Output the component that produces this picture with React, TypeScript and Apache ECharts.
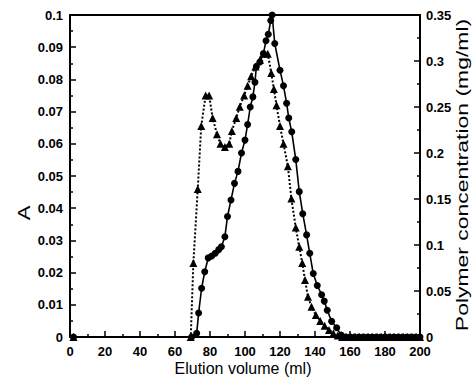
import React, { useEffect, useRef } from "react";
import * as echarts from "echarts";

const xTickLabels = ["0", "20", "40", "60", "80", "100", "120", "140", "160", "180", "200"];

// Absorbance (A), triangles, dotted line
const triVolume = [2, 69, 70.5, 73, 75, 77.5, 79.5, 81.5, 84, 86, 88.5, 91, 92.5, 95, 97, 99.5, 101.5, 103.5, 106, 108.5, 110.5, 113, 115, 116.5, 118, 120, 122, 124.5, 126.5, 129, 131, 132.7, 134.3, 136, 138, 140.5, 143, 145.5, 148, 150.5, 153, 155.5, 158, 160.5, 163, 165.5, 168, 170.5, 173, 175.5, 178, 180.5, 183, 185.5, 188, 190.5, 193, 195.5, 198, 200];
const triA = [0, 0, 0.023, 0.046, 0.0655, 0.075, 0.075, 0.068, 0.063, 0.06, 0.059, 0.06, 0.064, 0.068, 0.0715, 0.075, 0.078, 0.081, 0.084, 0.086, 0.088, 0.088, 0.082, 0.077, 0.072, 0.0655, 0.06, 0.053, 0.043, 0.034, 0.028, 0.023, 0.0177, 0.0125, 0.0094, 0.0068, 0.005, 0.0035, 0.0022, 0.0012, 0.0005, 0, 0, 0, 0, 0, 0, 0, 0, 0, 0, 0, 0, 0, 0, 0, 0, 0, 0, 0];

// Polymer concentration (mg/ml), circles, solid line
const circVolume = [2, 69.5, 72.4, 73.5, 75.2, 77, 79, 81, 83, 85, 86.5, 88.5, 90, 92, 94, 96, 98, 100, 101.5, 103, 104.5, 105.7, 106.5, 108.5, 110.5, 112, 113.3, 114.7, 115.5, 117, 120, 122, 123.8, 125, 126.7, 129, 131, 133, 135.2, 137, 139, 141.3, 143.8, 145.3, 147, 149.5, 152.4, 155, 157.5, 160, 162.5, 165, 167.5, 170, 172.5, 175, 177.5, 180, 182.5, 185, 187.5, 190, 192.5, 195, 197.5, 200];
const circConc = [0, 0, 0.004, 0.026, 0.053, 0.071, 0.086, 0.088, 0.091, 0.095, 0.098, 0.109, 0.131, 0.149, 0.167, 0.18, 0.2, 0.214, 0.231, 0.25, 0.261, 0.277, 0.294, 0.299, 0.308, 0.322, 0.329, 0.344, 0.35, 0.319, 0.29, 0.273, 0.254, 0.238, 0.223, 0.193, 0.158, 0.134, 0.111, 0.091, 0.069, 0.056, 0.046, 0.039, 0.029, 0.017, 0.01, 0.002, 0, 0, 0, 0, 0, 0, 0, 0, 0, 0, 0, 0, 0, 0, 0, 0, 0, 0];

const labelFont = { color: "#000", fontFamily: "Liberation Sans, Arial, sans-serif", fontWeight: "bold" as const, fontSize: 13, lineHeight: 12 };

export default function App() {
  const ref = useRef<HTMLDivElement>(null);
  useEffect(() => {
    const chart = echarts.init(ref.current!, null, { renderer: "svg" });
    const axisLine = { show: true, onZero: false, lineStyle: { color: "#000", width: 2 } };
    chart.setOption({
      animation: false,
      backgroundColor: "#fff",
      grid: { left: 70, right: 56, top: 15, bottom: 41 },
      xAxis: [
        {
          type: "value",
          min: 0,
          max: 200,
          interval: 20,
          position: "bottom",
          axisLine,
          axisTick: { show: true, inside: true, length: 6, lineStyle: { color: "#000", width: 1.5 } },
          minorTick: { show: true, splitNumber: 2, length: 3, lineStyle: { color: "#000", width: 1.5 } },
          splitLine: { show: false },
          axisLabel: { ...labelFont, margin: 8, formatter: (v: number) => xTickLabels[Math.round(v / 20)] ?? String(v) },
        },
        {
          type: "value",
          min: 0,
          max: 200,
          position: "top",
          axisLine,
          axisTick: { show: false },
          axisLabel: { show: false },
          splitLine: { show: false },
        },
      ],
      yAxis: [
        {
          type: "value",
          min: 0,
          max: 0.1,
          interval: 0.01,
          position: "left",
          axisLine,
          axisTick: { show: true, inside: true, length: 6, lineStyle: { color: "#000", width: 1.5 } },
          minorTick: { show: true, splitNumber: 2, length: 3, lineStyle: { color: "#000", width: 1.5 } },
          splitLine: { show: false },
          axisLabel: { ...labelFont, margin: 7, formatter: (v: number) => String(parseFloat(v.toFixed(3))) },
        },
        {
          type: "value",
          min: 0,
          max: 0.35,
          interval: 0.05,
          position: "right",
          axisLine,
          axisTick: { show: true, inside: true, length: 6, lineStyle: { color: "#000", width: 1.5 } },
          minorTick: { show: true, splitNumber: 2, length: 3, lineStyle: { color: "#000", width: 1.5 } },
          splitLine: { show: false },
          axisLabel: { ...labelFont, margin: 6, formatter: (v: number) => String(parseFloat(v.toFixed(3))) },
        },
      ],
      series: [
        {
          type: "line",
          xAxisIndex: 0,
          yAxisIndex: 0,
          data: triVolume.map((x, i) => [x, triA[i]]),
          symbol: "triangle",
          symbolSize: 8,
          showAllSymbol: true,
          itemStyle: { color: "#000" },
          lineStyle: { color: "#000", width: 2, type: [2, 2] },
          z: 3,
        },
        {
          type: "line",
          xAxisIndex: 0,
          yAxisIndex: 1,
          data: circVolume.map((x, i) => [x, circConc[i]]),
          symbol: "circle",
          symbolSize: 7,
          showAllSymbol: true,
          itemStyle: { color: "#000" },
          lineStyle: { color: "#000", width: 1.6 },
          z: 4,
        },
      ],
      graphic: [
        {
          type: "text",
          x: 243,
          y: 368,
          style: { text: "Elution volume (ml)", font: "16px 'Liberation Sans', Arial, sans-serif", fill: "#000", align: "center", verticalAlign: "middle" },
        },
        {
          type: "text",
          x: 24,
          y: 213,
          rotation: Math.PI / 2,
          scaleX: 1.3,
          style: { text: "A", font: "17px 'Liberation Sans', Arial, sans-serif", fill: "#000", align: "center", verticalAlign: "middle" },
        },
        {
          type: "text",
          x: 462,
          y: 175,
          rotation: Math.PI / 2,
          scaleX: 1.35,
          style: { text: "Polymer concentration (mg/ml)", font: "17px 'Liberation Sans', Arial, sans-serif", fill: "#000", align: "center", verticalAlign: "middle" },
        },
      ],
    });
    return () => chart.dispose();
  }, []);
  return <div ref={ref} style={{ width: 476, height: 378, position: "absolute", left: 0, top: 0 }} />;
}
